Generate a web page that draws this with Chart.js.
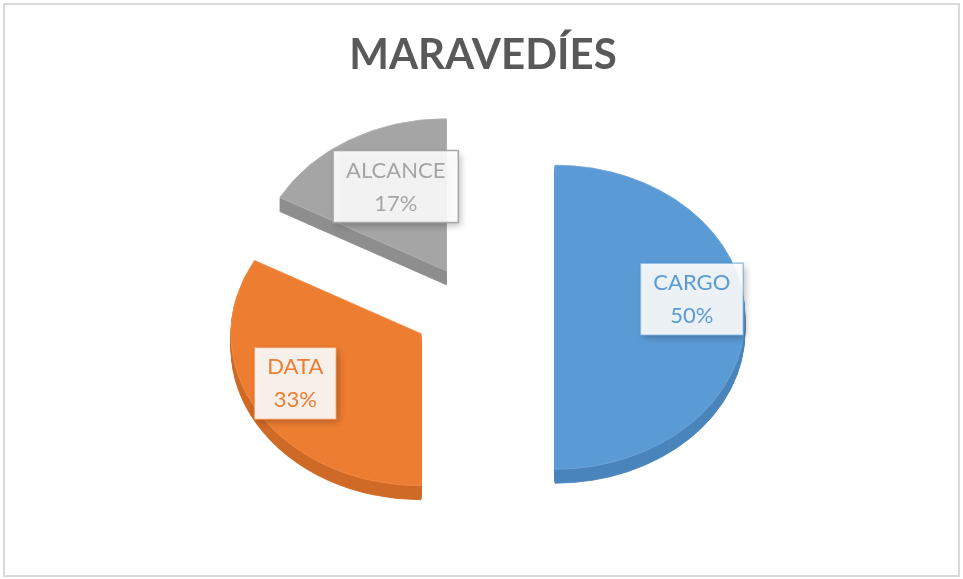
<!DOCTYPE html>
<html>
<head>
<meta charset="utf-8">
<script src="https://cdn.jsdelivr.net/npm/chart.js@4.4.0/dist/chart.umd.min.js"></script>
<style>
body { margin: 0; background: #fff; }
#wrap { position: relative; width: 963px; height: 579px; }
#frame { position: absolute; left: 3px; top: 3px; width: 953px; height: 570px; border: 2px solid #d9d9d9; pointer-events: none; }
</style>
</head>
<body>
<div id="wrap">
  <canvas id="myChart-maravedies" width="963" height="579"></canvas>
  <div id="frame"></div>
</div>
<script>
// datos
const categories = ['CARGO', 'DATA', 'ALCANCE'];
const shares = [50, 33, 17];
const sliceColors = ['#5b9bd5', '#ed7d31', '#a5a5a5'];
const sideColors = ['#4a84bb', '#cf6a27', '#8e8e8e'];
const edgeColors = ['#6fa6da', '#f08c4a', '#b3b3b3'];
const boxEdges = ['rgba(91,155,213,0.55)', 'rgba(237,125,49,0.55)', '#a5a5a5'];
// small hand nudges for the boxed labels (px)
const labelNudgeX = [0, -8, 19];
const labelNudgeY = [-10, 2, 18];

// 3D look: squashed pie, exploded slices, darker side below
const TILT = 0.8;
const DEPTH = 14;
const EXPLODE = 72;

function sliceShift(arc) {
    const mid = (arc.startAngle + arc.endAngle) / 2;
    const sy = Math.sin(mid);
    // slices pushed to the back look like they travel further
    const k = sy < 0 ? 0.75 : 0.45;
    return { mid, dx: Math.cos(mid) * EXPLODE, dy: sy * EXPLODE * k };
}

const tiltPie = {
    id: 'tiltPie',
    beforeDatasetsDraw(chart) {
        const ctx = chart.ctx;
        const arcs = chart.getDatasetMeta(0).data;
        const drawSlice = (arc, down, fill, stroke) => {
            const s = sliceShift(arc);
            const orig = arc.options;
            ctx.save();
            ctx.translate(s.dx, s.dy + down);
            ctx.translate(arc.x, arc.y);
            ctx.scale(1, TILT);
            ctx.translate(-arc.x, -arc.y);
            arc.options = Object.assign({}, orig, { backgroundColor: fill, borderColor: stroke });
            arc.draw(ctx);
            arc.options = orig;
            ctx.restore();
        };
        for (let d = DEPTH; d > 0; d--) {
            arcs.forEach((arc, i) => drawSlice(arc, d, sideColors[i], sideColors[i]));
        }
        arcs.forEach((arc, i) => drawSlice(arc, 0, sliceColors[i], edgeColors[i]));
        return false;
    }
};

// etiquetas con caja
const sliceLabels = {
    id: 'sliceLabels',
    afterDraw(chart) {
        const ctx = chart.ctx;
        const arcs = chart.getDatasetMeta(0).data;
        const total = shares.reduce((a, b) => a + b, 0);
        ctx.save();
        ctx.font = '22px Lato';
        ctx.textAlign = 'center';
        ctx.textBaseline = 'middle';
        arcs.forEach((arc, i) => {
            const s = sliceShift(arc);
            const dist = arc.outerRadius * 0.72;
            const lx = arc.x + s.dx + Math.cos(s.mid) * dist + labelNudgeX[i];
            const ly = arc.y + s.dy + Math.sin(s.mid) * dist * TILT - 8 + labelNudgeY[i];
            const lines = [categories[i], Math.round(shares[i] / total * 100) + '%'];
            const w = Math.max(...lines.map(t => ctx.measureText(t).width)) + 26;
            const h = 72;
            ctx.save();
            ctx.shadowColor = 'rgba(0,0,0,0.3)';
            ctx.shadowBlur = 7;
            ctx.shadowOffsetX = 3;
            ctx.shadowOffsetY = 3;
            ctx.fillStyle = 'rgba(255,255,255,0.9)';
            ctx.fillRect(lx - w / 2, ly - h / 2, w, h);
            ctx.restore();
            ctx.strokeStyle = boxEdges[i];
            ctx.lineWidth = 1.5;
            ctx.strokeRect(lx - w / 2, ly - h / 2, w, h);
            ctx.fillStyle = sliceColors[i];
            ctx.fillText(lines[0], lx, ly - 16);
            ctx.fillText(lines[1], lx, ly + 17);
        });
        ctx.restore();
    }
};

const ctx1 = document.getElementById('myChart-maravedies').getContext('2d');
const myChart1 = new Chart(ctx1, {
    type: 'pie',
    data: {
        labels: categories,
        datasets: [{
            data: shares,
            backgroundColor: sliceColors,
            borderColor: edgeColors,
            borderWidth: 1,
            radius: 190
        }]
    },
    options: {
        responsive: false,
        animation: false,
        layout: { padding: { left: 3, right: 0, top: 0, bottom: 25 } },
        plugins: {
            legend: { display: false },
            tooltip: { enabled: false },
            title: {
                display: true,
                text: 'MARAVEDÍES',
                color: '#595959',
                font: { family: 'Lato', size: 42, weight: 'bold' },
                padding: { top: 30, bottom: 0 }
            }
        }
    },
    plugins: [tiltPie, sliceLabels]
});
</script>
</body>
</html>
